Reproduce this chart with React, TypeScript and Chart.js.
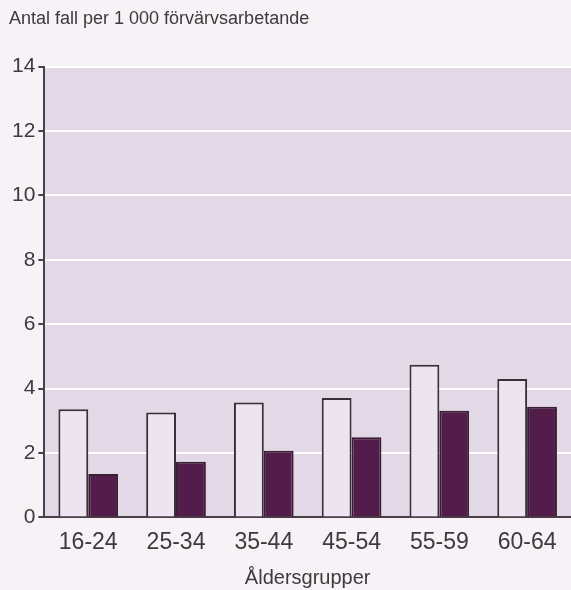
import React, { useEffect, useRef } from "react";
import { Chart, registerables } from "chart.js";

Chart.register(...registerables);

const categories = ["16-24", "25-34", "35-44", "45-54", "55-59", "60-64"];
const seriesLight = [3.36, 3.26, 3.57, 3.71, 4.74, 4.3];
const seriesDark = [1.35, 1.73, 2.07, 2.49, 3.31, 3.44];
const yMin = 0;
const yMax = 14;
const yStep = 2;
const titleText = "Antal fall per 1 000 förvärvsarbetande";
const xTitleText = "Åldersgrupper";

const FONT = "'Liberation Sans', Arial, sans-serif";
const TEXT = "#3f383d";
const AXIS = "#4a3f48";

const bgPlugin = {
  id: "bgPlugin",
  beforeDraw(chart: any) {
    const { ctx, chartArea, width, height } = chart;
    ctx.save();
    ctx.fillStyle = "#f6f2f5";
    ctx.fillRect(0, 0, width, height);
    ctx.fillStyle = "#e3d9e6";
    ctx.fillRect(chartArea.left, chartArea.top, chartArea.right - chartArea.left, chartArea.bottom - chartArea.top);
    ctx.restore();
  },
};

export default function App() {
  const ref = useRef<HTMLCanvasElement | null>(null);
  useEffect(() => {
    if (!ref.current) return;
    const chart = new Chart(ref.current, {
      type: "bar",
      data: {
        labels: categories,
        datasets: [
          {
            label: "A",
            data: seriesLight,
            backgroundColor: "#ece5ef",
            borderColor: "#3d2d3a",
            borderWidth: 2,
            borderSkipped: "bottom",
          },
          {
            label: "B",
            data: seriesDark,
            backgroundColor: "#521d4a",
            borderColor: "#3a1f34",
            borderWidth: 2,
            borderSkipped: "bottom",
          },
        ],
      },
      options: {
        animation: false,
        responsive: false,
        maintainAspectRatio: false,
        layout: { padding: { left: 9, right: 0, top: 0, bottom: 0 } },
        datasets: { bar: { categoryPercentage: 0.68, barPercentage: 1 } },
        plugins: {
          legend: { display: false },
          tooltip: { enabled: false },
          title: {
            display: true,
            text: titleText,
            align: "start",
            color: TEXT,
            font: { family: FONT, size: 18, weight: "normal" },
            padding: { top: 8, bottom: 37 },
          },
        },
        scales: {
          x: {
            offset: true,
            grid: { display: false },
            border: { display: true, color: AXIS, width: 2 },
            ticks: {
              color: TEXT,
              font: { family: FONT, size: 23 },
              padding: 3,
              maxRotation: 0,
            },
            title: {
              display: true,
              text: xTitleText,
              color: TEXT,
              font: { family: FONT, size: 20 },
              padding: { top: 7, bottom: 0 },
            },
          },
          y: {
            min: yMin,
            max: yMax,
            ticks: {
              stepSize: yStep,
              color: TEXT,
              font: { family: FONT, size: 21 },
              padding: 3,
            },
            grid: {
              color: "#ffffff",
              lineWidth: 2,
              tickColor: AXIS,
              tickLength: 6,
              drawTicks: true,
            },
            border: { display: true, color: AXIS, width: 2 },
          },
        },
      },
      plugins: [bgPlugin],
    });
    return () => chart.destroy();
  }, []);
  return (
    <div style={{ position: "absolute", left: 0, top: 0, width: 571, height: 590 }}>
      <canvas ref={ref} width={571} height={590} style={{ display: "block" }} />
    </div>
  );
}
